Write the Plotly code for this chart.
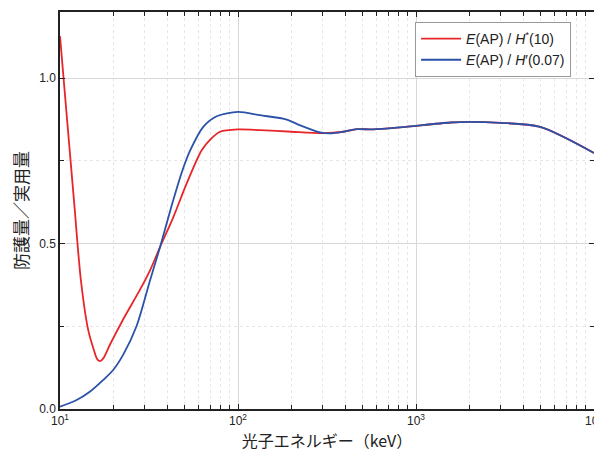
import plotly.graph_objects as go

# Photon energy (keV) and ratios
energy_red = [10, 11.0, 12.0, 13.1, 14.4, 15.4, 16.2, 16.8, 17.5, 19.1, 22.7, 28.1, 32.1, 36.5, 43.4, 51.5, 62.5, 70, 79.3, 100, 133, 200, 300, 390, 465, 575, 813, 1560, 2010, 2970, 4980, 10000]
ratio_red = [1.127, 0.864, 0.626, 0.39, 0.239, 0.183, 0.150, 0.145, 0.153, 0.195, 0.272, 0.36, 0.42, 0.49, 0.581, 0.682, 0.782, 0.815, 0.838, 0.845, 0.843, 0.838, 0.834, 0.838, 0.846, 0.845, 0.851, 0.866, 0.868, 0.865, 0.853, 0.774]

energy_blue = [10, 12.4, 14.7, 17.5, 19.9, 22.7, 26.9, 32.1, 36.5, 42.4, 48.3, 53.7, 63.8, 75.9, 100, 133, 188, 222, 289, 330, 390, 465, 575, 813, 1560, 2010, 2970, 4980, 10000]
ratio_blue = [0.007, 0.027, 0.052, 0.088, 0.118, 0.165, 0.25, 0.39, 0.49, 0.615, 0.715, 0.78, 0.853, 0.885, 0.898, 0.888, 0.875, 0.858, 0.836, 0.833, 0.838, 0.846, 0.845, 0.851, 0.866, 0.868, 0.865, 0.853, 0.774]

name_red = "<i>E</i>(AP) / <i>H</i><sup>*</sup>(10)"
name_blue = "<i>E</i>(AP) / <i>H</i>′(0.07)"

x_tickvals = [10, 100, 1000, 10000]
x_ticktext = ["10<sup>1</sup>", "10<sup>2</sup>", "10<sup>3</sup>", "10<sup>4</sup>"]
x_minor = [m * d for d in (10, 100, 1000) for m in range(2, 10)]
y_tickvals = [0, 0.5, 1.0]
y_ticktext = ["0.0", "0.5", "1.0"]

FONT = "Noto Sans CJK JP"
TICKFONT = "Liberation Sans"

fig = go.Figure()
fig.add_trace(go.Scatter(x=energy_red, y=ratio_red, mode="lines", name=name_red,
                         line=dict(color="#e8262a", width=1.8, shape="spline", smoothing=0.8)))
fig.add_trace(go.Scatter(x=energy_blue, y=ratio_blue, mode="lines", name=name_blue,
                         line=dict(color="#2b52a8", width=1.8, shape="spline", smoothing=0.8)))

# page body has an 8px margin; figure sized so the plot area lands where the reference has it
fig.update_layout(
    width=594, height=449,
    margin=dict(l=52, r=8, t=4, b=48, autoexpand=False),
    paper_bgcolor="white", plot_bgcolor="white",
    font=dict(family=FONT, color="#222", size=12),
    legend=dict(x=0.665, y=0.975, xanchor="left", yanchor="top",
                bordercolor="#999", borderwidth=1, bgcolor="white",
                font=dict(size=14, family=TICKFONT), itemwidth=40, tracegroupgap=0),
    showlegend=True,
)
fig.update_xaxes(
    type="log", range=[1, 4], automargin=False,
    tickvals=x_tickvals, ticktext=x_ticktext, ticklabeloverflow="allow",
    ticks="inside", ticklen=5, tickcolor="#222",
    showline=True, linecolor="#222", linewidth=1.5, mirror="ticks",
    showgrid=True, gridcolor="#d8d8d8", gridwidth=1,
    minor=dict(tickvals=x_minor, ticks="inside", ticklen=4, tickcolor="#222",
               showgrid=True, gridcolor="#e6e6e6", griddash="dot", gridwidth=1),
    tickfont=dict(size=12, family=TICKFONT),
    title=dict(text="光子エネルギー（keV）", font=dict(size=16, family=FONT), standoff=4),
    zeroline=False,
)
fig.update_yaxes(
    range=[0, 1.2], automargin=False,
    tickvals=y_tickvals, ticktext=y_ticktext,
    ticks="inside", ticklen=5, tickcolor="#222",
    showline=True, linecolor="#222", linewidth=1.5, mirror="ticks",
    showgrid=True, gridcolor="#d8d8d8", gridwidth=1,
    minor=dict(tickvals=[0.25, 0.75], ticks="inside", ticklen=4, tickcolor="#222",
               showgrid=True, gridcolor="#e6e6e6", griddash="dot", gridwidth=1),
    tickfont=dict(size=12, family=TICKFONT),
    title=dict(text="防護量／実用量", font=dict(size=17, family=FONT), standoff=6),
    zeroline=False,
)

fig.write_html("out.html")
